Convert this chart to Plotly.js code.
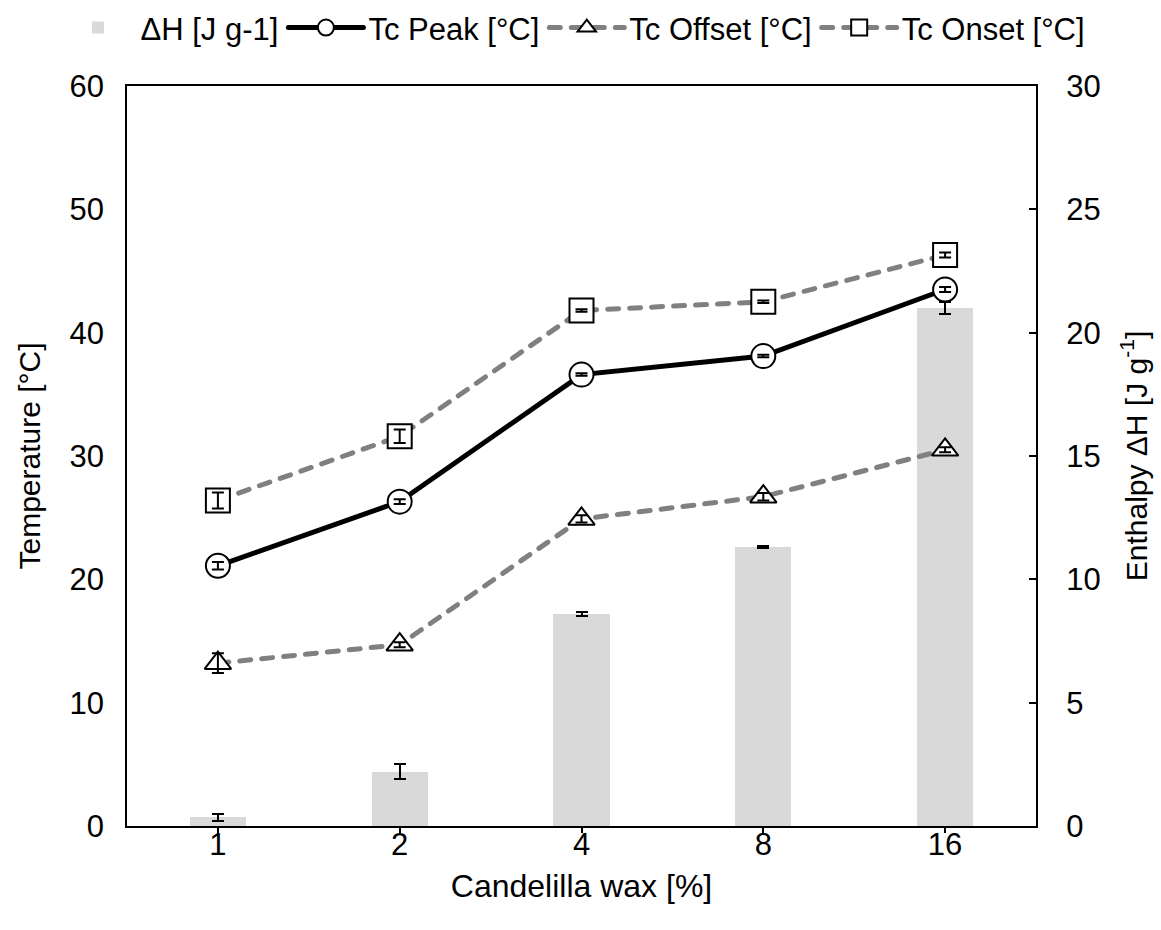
<!DOCTYPE html>
<html>
<head>
<meta charset="utf-8">
<script src="https://cdn.plot.ly/plotly-3.0.1.min.js"></script>
<style>
  html, body { margin: 0; padding: 0; background: #fff; }
  #chart { width: 1161px; height: 930px; }
  .scatterlayer .js-line { stroke-linecap: round; }
  .legend .js-line { stroke-linecap: round; }
</style>
</head>
<body>
<div id="chart"></div>
<script>
// Categories (Candelilla wax [%])
const categories = ['1', '2', '4', '8', '16'];

// Enthalpy ΔH [J g-1] (right axis)
const dH = [0.35, 2.2, 8.6, 11.3, 21.0];
const dHErr = [0.15, 0.3, 0.08, 0.04, 0.25];

// Temperatures [°C] (left axis)
const tcPeak = [21.1, 26.3, 36.6, 38.1, 43.5];
const tcPeakErr = [0.3, 0.2, 0.1, 0.1, 0.2];

const tcOffset = [13.2, 14.7, 24.9, 26.7, 30.5];
const tcOffsetErr = [0.8, 0.2, 0.3, 0.3, 0.2];

const tcOnset = [26.4, 31.6, 41.8, 42.5, 46.3];
const tcOnsetErr = [0.65, 0.55, 0.1, 0.1, 0.2];

const FONT = 'Liberation Sans, Arial, sans-serif';
const GRAY = '#808080';
const FS = 31;

function errBar(arr) {
  return { type: 'data', array: arr, visible: true, color: '#000', thickness: 2, width: 6 };
}

const traces = [
  {
    name: '\u0394H [J g-1]', type: 'bar', x: categories, y: dH, yaxis: 'y',
    width: 0.31, marker: { color: '#d9d9d9', line: { width: 0 } },
    error_y: errBar(dHErr)
  },
  {
    name: 'Tc Peak [°C]', type: 'scatter', mode: 'lines+markers', x: categories, y: tcPeak, yaxis: 'y2',
    line: { color: '#000', width: 5 },
    marker: { symbol: 'circle', size: 24, color: '#fff', line: { color: '#000', width: 2 } }
  },
  {
    name: 'Tc Offset [°C]', type: 'scatter', mode: 'lines+markers', x: categories, y: tcOffset, yaxis: 'y2',
    line: { color: GRAY, width: 5, dash: '11px,11px' },
    marker: { symbol: 'triangle-up', size: 23, color: '#fff', line: { color: '#000', width: 2 } }
  },
  {
    name: 'Tc Onset [°C]', type: 'scatter', mode: 'lines+markers', x: categories, y: tcOnset, yaxis: 'y2',
    line: { color: GRAY, width: 5, dash: '11px,11px' },
    marker: { symbol: 'square', size: 24, color: '#fff', line: { color: '#000', width: 2 } }
  },
  // error bars drawn above markers
  { type: 'scatter', mode: 'markers', x: categories, y: tcPeak, yaxis: 'y2', showlegend: false, hoverinfo: 'skip',
    marker: { size: 1, color: 'rgba(0,0,0,0)' }, error_y: errBar(tcPeakErr) },
  { type: 'scatter', mode: 'markers', x: categories, y: tcOffset, yaxis: 'y2', showlegend: false, hoverinfo: 'skip',
    marker: { size: 1, color: 'rgba(0,0,0,0)' }, error_y: errBar(tcOffsetErr) },
  { type: 'scatter', mode: 'markers', x: categories, y: tcOnset, yaxis: 'y2', showlegend: false, hoverinfo: 'skip',
    marker: { size: 1, color: 'rgba(0,0,0,0)' }, error_y: errBar(tcOnsetErr) }
];

const layout = {
  width: 1161, height: 930,
  paper_bgcolor: '#fff', plot_bgcolor: '#fff',
  font: { family: FONT, size: FS, color: '#000' },
  margin: { l: 127, r: 125, t: 86, b: 104, autoexpand: false },
  showlegend: true,
  legend: {
    orientation: 'h', x: 1.06, xanchor: 'right', y: 1.042, yanchor: 'bottom',
    xref: 'paper', yref: 'paper',
    font: { family: FONT, size: FS, color: '#000' },
    traceorder: 'normal', itemwidth: 75, tracegroupgap: 0
  },
  xaxis: {
    type: 'category', categoryorder: 'array', categoryarray: categories,
    showline: true, linecolor: '#000', linewidth: 2, mirror: true,
    ticks: 'outside', ticklen: 5, tickwidth: 2, tickcolor: '#000',
    showgrid: false, zeroline: false,
    ticklabelstandoff: -15,
    tickfont: { family: FONT, size: FS },
    title: { text: 'Candelilla wax [%]', font: { family: FONT, size: 32 }, standoff: 13 }
  },
  yaxis: {
    side: 'right', range: [0, 30], dtick: 5, tick0: 0,
    showline: true, linecolor: '#000', linewidth: 2, mirror: true,
    ticks: 'inside', ticklen: 7, tickwidth: 2, tickcolor: '#000',
    showgrid: false, zeroline: false,
    ticklabelstandoff: 22,
    tickfont: { family: FONT, size: FS },
    title: { text: 'Enthalpy \u0394H [J g<sup>-1</sup>]', font: { family: FONT, size: 30 }, standoff: 26 }
  },
  yaxis2: {
    overlaying: 'y', side: 'left', range: [0, 60], dtick: 10, tick0: 0,
    showline: false, ticks: '', showgrid: false, zeroline: false,
    ticklabelstandoff: 22,
    tickfont: { family: FONT, size: FS },
    title: { text: 'Temperature [°C]', font: { family: FONT, size: 30 }, standoff: 20 }
  },
  bargap: 0
};

Plotly.newPlot('chart', traces, layout, { displayModeBar: false, staticPlot: true });
</script>
</body>
</html>
